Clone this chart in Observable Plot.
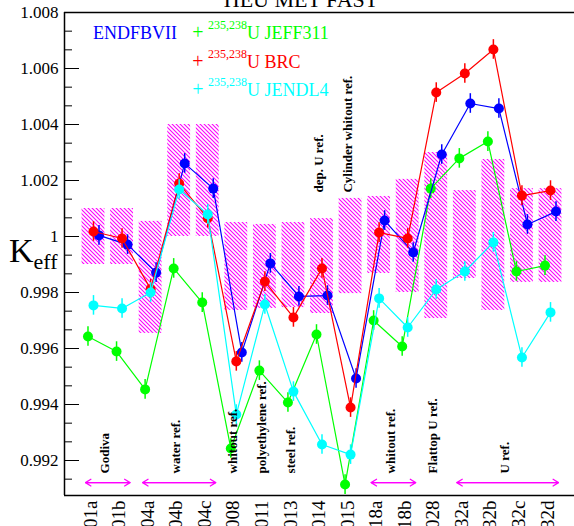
<!DOCTYPE html>
<html><head><meta charset="utf-8">
<script src="https://cdn.jsdelivr.net/npm/d3@7"></script>
<script src="https://cdn.jsdelivr.net/npm/@observablehq/plot@0.6"></script>
<style>body{margin:0;background:#fff} svg{display:block}</style>
</head><body><div id="chart"></div>
<script>
// ---- data ----
const categories = ["01a","01b","04a","04b","04c","008","011","013","014","015","18a","18b","028","32a","32b","32c","32d"];
const endfbvii = [1.00004,0.99971,0.99871,1.00261,1.00171,0.99586,0.99904,0.99786,0.99789,0.99493,1.00057,0.99943,1.00293,1.00475,1.00457,1.00043,1.00089];
const jeff311  = [0.99643,0.99589,0.99454,0.99886,0.99764,0.99243,0.99521,0.99407,0.99650,0.99114,0.99700,0.99607,1.00171,1.00279,1.00339,0.99875,0.99896];
const brc      = [1.00018,0.99993,0.99812,1.00189,1.00065,0.99554,0.99839,0.99711,0.99886,0.99389,1.00014,0.99993,1.00514,1.00582,1.00668,1.00146,1.00164];
const jendl4   = [0.99754,0.99743,0.99800,1.00168,1.00079,0.99364,0.99757,0.99446,0.99257,0.99221,0.99779,0.99675,0.99811,0.99875,0.99979,0.99568,0.99729];
const benchLow  = [0.99900,0.99900,0.99654,1.00000,1.00000,0.99736,0.99743,0.99746,0.99725,0.99796,0.99868,0.99800,0.99707,0.99850,0.99736,0.99836,0.99836];
const benchHigh = [1.00100,1.00100,1.00054,1.00400,1.00400,1.00050,1.00043,1.00050,1.00064,1.00136,1.00143,1.00204,1.00300,1.00164,1.00275,1.00171,1.00171];
const errHalf = 0.00035;
const yMajorTicks = [0.992,0.994,0.996,0.998,1,1.002,1.004,1.006,1.008];
const groupLabels = ["Godiva","water ref.","whitout ref.","polyethylene ref.","steel ref.","dep. U ref.","Cylinder whitout ref.","whitout ref.","Flattop U ref.","U ref."];
const groupFrom   = ["01a","04a","008","011","013","014","015","18a","028","32a"];
const groupTo     = ["01b","04c","008","011","013","014","015","18b","028","32d"];
const groupLevel  = [0.99154,0.99154,0.99154,0.99154,0.99154,1.00157,1.00157,0.99154,0.99154,0.99154];
const arrowFrom = ["01a","04a","18a","32a"];
const arrowTo   = ["01b","04c","18b","32d"];
const arrowLevel = 0.99121;

// ---- layout ----
const W = 574, H = 526, mL = 64, mR = 0, mT = 12, mB = 31;
const plotW = W - mL - mR;
const xDomain = [-1.015, 16.84];
const yDomain = [0.99075, 1.008];
const serif = "Liberation Serif, Times New Roman, Times, serif";
const idx = c => categories.indexOf(c);

const series = [
  {name: "JEFF311", values: jeff311, color: "#00ff00", dx: -5.5},
  {name: "ENDFBVII", values: endfbvii, color: "#0000ff", dx: 5.5},
  {name: "BRC", values: brc, color: "#ff0000", dx: 0},
  {name: "JENDL4", values: jendl4, color: "#00ffff", dx: 0}
];

const boxes = categories.map((c, i) => ({i, lo: benchLow[i], hi: benchHigh[i]}));
const yMinorTicks = d3.range(-1, 24).filter(k => k % 3 !== 0).map(k => 0.992 + k * 0.002 / 3);
const groups = groupLabels.map((t, k) => ({t, x: (idx(groupFrom[k]) + idx(groupTo[k])) / 2, y: groupLevel[k]}));
const arrows = arrowFrom.map((f, k) => ({a: idx(f), b: idx(arrowTo[k])}));

const marks = [
  Plot.rect(boxes, {x1: d => d.i - 0.4, x2: d => d.i + 0.4, y1: "lo", y2: "hi", fill: "url(#hatch)"})
];
for (const s of series) {
  const rows = s.values.map((v, i) => ({i, v}));
  marks.push(Plot.line(rows, {x: "i", y: "v", stroke: s.color, strokeWidth: 1.2, dx: s.dx}));
  marks.push(Plot.ruleX(rows, {x: "i", y1: d => d.v - errHalf, y2: d => d.v + errHalf, stroke: s.color, strokeWidth: 1.5, dx: s.dx}));
  marks.push(Plot.dot(rows, {x: "i", y: "v", r: 5, fill: s.color, stroke: "none", dx: s.dx}));
}
marks.push(
  Plot.arrow(arrows, {x1: "a", x2: "b", y1: () => arrowLevel, y2: () => arrowLevel, stroke: "#ff00ff", strokeWidth: 1.2, insetStart: -8, insetEnd: -8, headLength: 8, headAngle: 64}),
  Plot.arrow(arrows, {x1: "b", x2: "a", y1: () => arrowLevel, y2: () => arrowLevel, stroke: "#ff00ff", strokeWidth: 1.2, insetStart: -8, insetEnd: -8, headLength: 8, headAngle: 64}),
  Plot.text(groups, {x: "x", y: "y", text: "t", rotate: -90, textAnchor: "start", fontWeight: "bold", fontSize: 13, fill: "black", dx: -3, fontFamily: serif}),
  Plot.tickY(yMinorTicks, {y: d => d, insetRight: plotW - 8, stroke: "black", strokeWidth: 1}),
  Plot.tickY(yMajorTicks, {y: d => d, insetRight: plotW - 15, stroke: "black", strokeWidth: 1}),
  Plot.axisY({ticks: yMajorTicks, tickSize: 0, tickPadding: 6, tickFormat: d => d === 1 ? "1" : d3.format(".3f")(d), fontSize: 17, fontFamily: serif, label: null}),
  Plot.axisX({ticks: d3.range(categories.length), tickSize: 0, tickPadding: 5, tickRotate: -90, tickFormat: i => categories[i], fontSize: 19, fontFamily: serif, label: null, dx: -3}),
  Plot.ruleY([yDomain[1]], {stroke: "black", strokeWidth: 1.5}),
  Plot.ruleY([yDomain[0]], {stroke: "black", strokeWidth: 1.5}),
  Plot.ruleX([xDomain[0]], {stroke: "black", strokeWidth: 1.5})
);

const chart = Plot.plot({
  width: W, height: H,
  marginLeft: mL, marginRight: mR, marginTop: mT, marginBottom: mB,
  x: {type: "linear", domain: xDomain},
  y: {domain: yDomain},
  style: {fontFamily: serif, background: "white", color: "black", overflow: "hidden"},
  marks
});
document.getElementById("chart").appendChild(chart);

// ---- decorations: hatch pattern, title, y label, legend ----
const svg = d3.select(chart);
svg.insert("defs", ":first-child").html(
  '<pattern id="hatch" patternUnits="userSpaceOnUse" width="4" height="4">' +
  '<path d="M-1,-1 L5,5 M-1,3 L1,5 M3,-1 L5,1" stroke="#ff00ff" stroke-width="1.1"/></pattern>');

const deco = svg.append("g").attr("font-family", serif).attr("text-anchor", "start");

deco.append("text").attr("x", 301).attr("y", 7).attr("text-anchor", "middle")
  .attr("font-size", 22).attr("fill", "black").text("HEU MET FAST");

const ky = deco.append("text").attr("x", 9).attr("y", 262).attr("fill", "black").attr("font-size", 34);
ky.append("tspan").text("K");
ky.append("tspan").attr("font-size", 22).attr("dy", 7).text("eff");

const legend = [
  {sup: "", text: "ENDFBVII", color: "#0000ff", marker: false, x: 93, y: 39},
  {sup: "235,238", text: "U JEFF311", color: "#00ff00", marker: true, x: 208, y: 39},
  {sup: "235,238", text: "U BRC", color: "#ff0000", marker: true, x: 208, y: 68},
  {sup: "235,238", text: "U JENDL4", color: "#00ffff", marker: true, x: 208, y: 96}
];
for (const l of legend) {
  if (l.marker) {
    deco.append("text").attr("x", l.x - 10).attr("y", l.y).attr("text-anchor", "middle")
      .attr("font-size", 20).attr("fill", l.color).text("+");
  }
  const t = deco.append("text").attr("x", l.x).attr("y", l.y).attr("fill", l.color).attr("font-size", 18);
  if (l.sup) {
    t.append("tspan").attr("font-size", 12).attr("dy", -10).text(l.sup);
    t.append("tspan").attr("dy", 10).text(l.text);
  } else {
    t.append("tspan").text(l.text);
  }
}
</script></body></html>
